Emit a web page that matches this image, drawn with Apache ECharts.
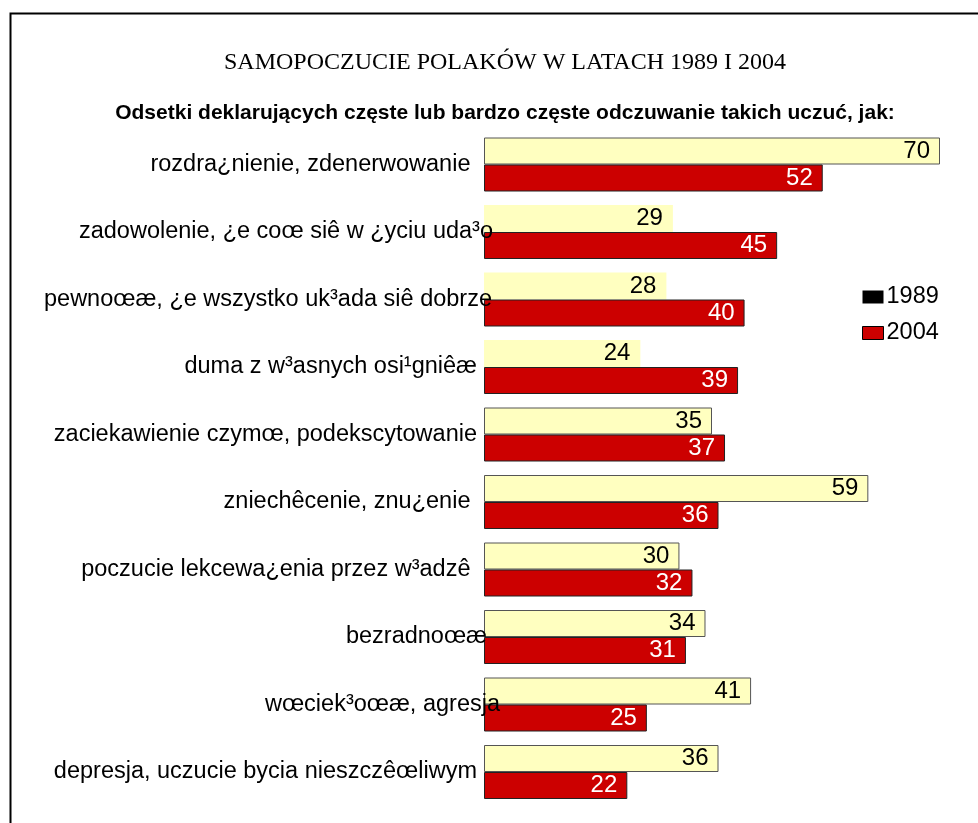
<!DOCTYPE html>
<html>
<head>
<meta charset="utf-8">
<script src="https://cdn.jsdelivr.net/npm/echarts@6/dist/echarts.min.js"></script>
<style>html,body{margin:0;padding:0;background:#fff;}#c{width:978px;height:823px;}</style>
</head>
<body>
<div id="c"></div>
<script>
var titleText = 'SAMOPOCZUCIE POLAKÓW W LATACH 1989 I 2004';
var subtitleText = 'Odsetki deklarujących częste lub bardzo częste odczuwanie takich uczuć, jak:';
var categories = [
  'rozdra¿nienie, zdenerwowanie ',
  'zadowolenie, ¿e coœ siê w ¿yciu uda³o',
  'pewnoœæ, ¿e wszystko uk³ada siê dobrze',
  'duma z w³asnych osi¹gniêæ',
  'zaciekawienie czymœ, podekscytowanie',
  'zniechêcenie, znu¿enie ',
  'poczucie lekcewa¿enia przez w³adzê ',
  'bezradnoœæ',
  'wœciek³oœæ, agresja',
  'depresja, uczucie bycia nieszczêœliwym'
];
var seriesNames = ['1989', '2004'];
var values1989 = [70, 29, 28, 24, 35, 59, 30, 34, 41, 36];
var values2004 = [52, 45, 40, 39, 37, 36, 32, 31, 25, 22];

// styling: which 1989 bars have no outline, and how far some labels spill over the bars
var noBorder1989 = {1: true, 2: true, 3: true};
var labelOverhang = {1: 16, 2: 15, 7: 10, 8: 23};

var data1989 = values1989.map(function (v, i) {
  return noBorder1989[i] ? {value: v, itemStyle: {borderWidth: 0}} : v;
});
var yData = categories.map(function (c, i) {
  return labelOverhang[i] ? {value: c, textStyle: {padding: [0, -labelOverhang[i], 0, 0]}} : c;
});

var FONT = '"Liberation Sans", Arial, sans-serif';
var chart = echarts.init(document.getElementById('c'), null, {renderer: 'canvas'});
chart.setOption({
  animation: false,
  backgroundColor: '#fff',
  graphic: [{
    type: 'rect', left: 8, top: 11, silent: true,
    shape: {x: 0, y: 0, width: 1000, height: 900},
    style: {fill: 'none', stroke: '#000', lineWidth: 2}
  }],
  title: [{
    text: titleText, left: 500, top: 46, textAlign: 'center',
    textStyle: {fontFamily: '"Liberation Serif", "Times New Roman", serif', fontWeight: 'normal', fontSize: 24, color: '#000'}
  }, {
    text: subtitleText, left: 500, top: 98, textAlign: 'center',
    textStyle: {fontFamily: FONT, fontWeight: 'bold', fontSize: 21, color: '#000'}
  }],
  legend: {
    orient: 'vertical', left: 862, top: 285, padding: 0, itemWidth: 21, itemHeight: 13, itemGap: 12,
    icon: 'rect',
    textStyle: {fontFamily: FONT, fontSize: 23.5, color: '#000', padding: [0, 0, 0, -2], lineHeight: 24},
    data: [
      {name: seriesNames[0], itemStyle: {color: '#000', borderWidth: 0}},
      {name: seriesNames[1], itemStyle: {color: '#CC0000', borderColor: '#000', borderWidth: 1}}
    ]
  },
  grid: {left: 484, right: 38, top: 130.75, height: 675, containLabel: false},
  xAxis: {type: 'value', min: 0, max: 70, show: false},
  yAxis: {
    type: 'category', data: yData, inverse: true, z: 10,
    axisLine: {show: false}, axisTick: {show: false}, splitLine: {show: false},
    axisLabel: {fontFamily: FONT, fontSize: 23.5, color: '#000', margin: 7}
  },
  series: [{
    name: seriesNames[0], type: 'bar', data: data1989,
    barGap: '0%', barCategoryGap: '20%',
    itemStyle: {color: '#FFFFC0', borderColor: '#555', borderWidth: 1},
    label: {show: true, position: 'insideRight', distance: 10, fontFamily: FONT, fontSize: 24, color: '#000'}
  }, {
    name: seriesNames[1], type: 'bar', data: values2004,
    barGap: '0%', barCategoryGap: '20%',
    itemStyle: {color: '#CC0000', borderColor: '#222', borderWidth: 1},
    label: {show: true, position: 'insideRight', distance: 10, fontFamily: FONT, fontSize: 24, color: '#fff'}
  }]
});
</script>
</body>
</html>
